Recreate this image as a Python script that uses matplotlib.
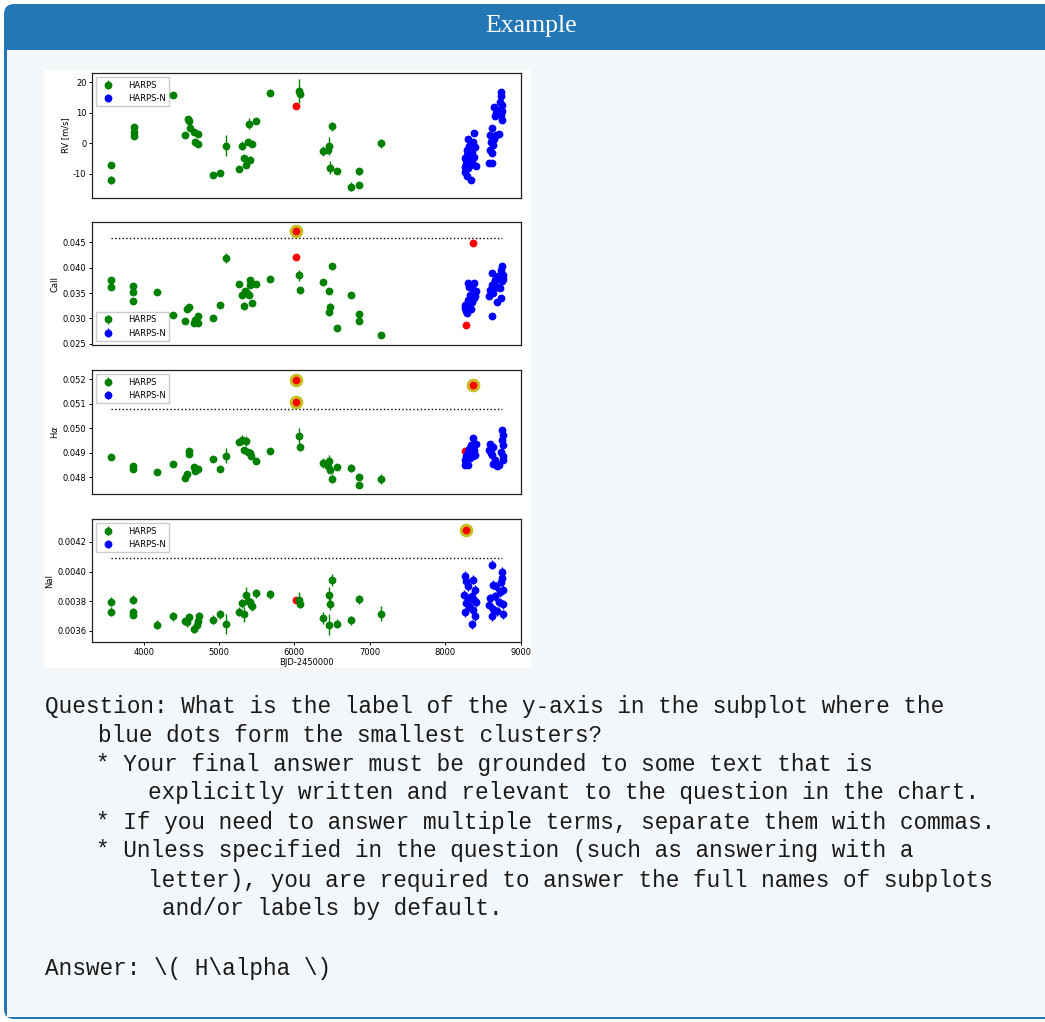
import matplotlib
matplotlib.use('Agg')
import matplotlib.pyplot as plt
from matplotlib.patches import FancyBboxPatch, Rectangle

W, H = 1045, 1022

# ---------------- data ----------------
# RV panel
rv_h_x = [3571, 3571, 3867, 3867, 3867, 4389, 4544, 4584, 4606, 4615, 4664, 4686, 4721, 4721,
          4925, 5018, 5093, 5261, 5310, 5336, 5363, 5385, 5398, 5407, 5438, 5491, 5681, 6058,
          6080, 6385, 6443, 6456, 6478, 6500, 6567, 6752, 6850, 6850, 7146]
rv_h_y = [-7.1, -12.0, 5.3, 3.8, 2.5, 15.9, 2.9, 7.9, 7.4, 5.0, 3.8, 0.4, 3.1, -0.1,
          -10.2, -9.8, -0.7, -8.4, -0.7, -4.7, -7.0, 0.4, 6.5, -5.3, -0.2, 7.5, 16.4, 17.1,
          16.2, -2.5, -2.1, -0.8, -7.9, 5.6, -9.1, -14.2, -9.1, -13.7, 0.0]
rv_h_err = [1.0, 1.2, 0.8, 0.8, 0.8, 1.0, 0.8, 0.8, 0.8, 0.8, 0.8, 0.8, 0.8, 0.8,
            0.8, 0.8, 3.5, 0.8, 1.5, 1.0, 1.0, 1.0, 1.8, 1.2, 0.8, 1.0, 1.0, 4.0,
            1.0, 1.5, 1.0, 3.0, 2.2, 1.5, 0.9, 1.5, 1.2, 0.9, 1.5]
rv_n_x = [8381, 8301, 8363, 8394, 8350, 8288, 8261, 8319, 8341, 8274, 8407, 8297, 8261, 8288,
          8341, 8332, 8257, 8283, 8328, 8381, 8359, 8270, 8310,
          8735, 8744, 8726, 8757, 8646, 8717, 8673, 8735, 8757, 8624, 8713, 8593, 8646, 8602,
          8637, 8593, 8624, 8580, 8624, 8668, 8748, 8615, 8655]
rv_n_y = [3.3, 1.6, 0.5, -1.1, -2.7, -3.8, -4.9, -4.4, -5.5, -6.6, -7.5, -8.2, -9.3, -10.8,
          -12.1, -3.3, -7.7, -2.2, -7.1, -4.4, -6.0, -5.6, -1.0,
          17.0, 15.4, 13.7, 12.6, 11.9, 11.0, 9.9, 9.3, 7.7, 4.9, 3.0, 2.7, 1.6, 0.5,
          -0.5, -2.2, -3.3, -6.4, -6.4, 2.7, 10.5, 1.0, 9.0]
rv_n_err = 0.9
rv_red_x = [6022]
rv_red_y = [12.2]

# CaII panel
ca_h_x = [3571, 3571, 3858, 3858, 3858, 4173, 4389, 4553, 4575, 4606, 4673, 4686, 4721, 4721,
          4925, 5018, 5093, 5261, 5310, 5336, 5350, 5372, 5394, 5407, 5407, 5438, 5491, 5681,
          6058, 6080, 6385, 6456, 6469, 6456, 6500, 6567, 6752, 6850, 6850, 7146]
ca_h_y = [0.03752, 0.03615, 0.03628, 0.03523, 0.03352, 0.03510, 0.03077, 0.02959, 0.03182,
          0.03221, 0.02907, 0.02972, 0.03051, 0.02920, 0.03018, 0.03267, 0.04185, 0.03680,
          0.03464, 0.03248, 0.03549, 0.03497, 0.03464, 0.03746, 0.03661, 0.03300, 0.03667,
          0.03779, 0.03844, 0.03556, 0.03713, 0.03530, 0.03235, 0.03136, 0.04021, 0.02808,
          0.03457, 0.03097, 0.02959, 0.02677]
ca_h_err = [0.0004, 0.0004, 0.0004, 0.0004, 0.0004, 0.0003, 0.0003, 0.0003, 0.0003, 0.0003,
            0.0004, 0.0004, 0.0003, 0.0003, 0.0003, 0.0003, 0.0010, 0.0004, 0.0005, 0.0007,
            0.0004, 0.0004, 0.0004, 0.0007, 0.0004, 0.0004, 0.0004, 0.0003, 0.0011, 0.0003,
            0.0005, 0.0005, 0.0007, 0.0008, 0.0005, 0.0003, 0.0005, 0.0004, 0.0003, 0.0005]
ca_n_x = [8381, 8297, 8359, 8403, 8328, 8381, 8297, 8261, 8319, 8274, 8341, 8288, 8359, 8310,
          8392, 8266,
          8757, 8740, 8619, 8770, 8704, 8659, 8748, 8619, 8681, 8597, 8726, 8637, 8575, 8735,
          8690, 8619, 8762, 8650]
ca_n_y = [0.03693, 0.03693, 0.03595, 0.03530, 0.03464, 0.03398, 0.03366, 0.03267, 0.03234,
          0.03156, 0.03182, 0.03103, 0.03333, 0.03620, 0.03450, 0.03200,
          0.04034, 0.03956, 0.03890, 0.03857, 0.03824, 0.03758, 0.03726, 0.03660, 0.03627,
          0.03562, 0.03595, 0.03496, 0.03444, 0.03398, 0.03333, 0.03051, 0.03780, 0.03700]
ca_n_err = 0.0003
ca_red_x = [6022, 8368, 8279]
ca_red_y = [0.04211, 0.04474, 0.02867]
ca_flag_x = [6022]
ca_flag_y = [0.04723]
ca_limit = 0.04572

# H-alpha panel
ha_h_x = [3571, 3858, 3858, 4173, 4389, 4544, 4575, 4606, 4606, 4673, 4686, 4721, 4925, 5018,
          5093, 5261, 5310, 5327, 5363, 5385, 5407, 5429, 5491, 5681, 6058, 6080, 6385, 6443,
          6456, 6478, 6500, 6567, 6752, 6850, 6850, 7146]
ha_h_y = [0.04882, 0.04844, 0.04831, 0.04821, 0.04852, 0.04797, 0.04814, 0.04905, 0.04896,
          0.04841, 0.04824, 0.04831, 0.04874, 0.04831, 0.04888, 0.04944, 0.04950, 0.04912,
          0.04946, 0.04903, 0.04899, 0.04886, 0.04866, 0.04905, 0.04967, 0.04922, 0.04859,
          0.04844, 0.04865, 0.04828, 0.04794, 0.04840, 0.04837, 0.04801, 0.04767, 0.04791]
ha_h_err = [0.00012, 0.0001, 0.0001, 0.0001, 0.0001, 0.0001, 0.0001, 0.0001, 0.0001, 0.0001,
            0.0001, 0.0001, 0.0001, 0.0001, 0.0003, 0.0001, 0.0002, 0.0001, 0.0002, 0.0001,
            0.0001, 0.0001, 0.0001, 0.0001, 0.00035, 0.00015, 0.0002, 0.0001, 0.00025, 0.0001,
            0.0002, 0.0001, 0.00015, 0.0001, 0.0001, 0.0002]
ha_n_x = [8372, 8403, 8341, 8385, 8297, 8350, 8279, 8328, 8261, 8297, 8257, 8363, 8310, 8394,
          8270,
          8757, 8766, 8748, 8770, 8597, 8637, 8740, 8575, 8619, 8770, 8659, 8637, 8690, 8717,
          8610, 8760]
ha_n_y = [0.04961, 0.04937, 0.04930, 0.04910, 0.04903, 0.04896, 0.04885, 0.04876, 0.04869,
          0.04848, 0.04848, 0.04888, 0.04915, 0.04890, 0.04860,
          0.04994, 0.04971, 0.04950, 0.04930, 0.04934, 0.04923, 0.04903, 0.04910, 0.04889,
          0.04885, 0.04869, 0.04852, 0.04844, 0.04850, 0.04900, 0.04870]
ha_n_err = 0.0001
ha_red_x = [8257]
ha_red_y = [0.04908]
ha_flag_x = [6022, 6022, 8368]
ha_flag_y = [0.05198, 0.05105, 0.05176]
ha_limit = 0.05077

# NaI panel
na_h_x = [3571, 3571, 3858, 3858, 3858, 4173, 4389, 4544, 4575, 4606, 4673, 4708, 4721, 4739,
          4925, 5018, 5093, 5261, 5310, 5336, 5363, 5385, 5407, 5438, 5491, 5681, 6058, 6080,
          6385, 6456, 6456, 6478, 6500, 6567, 6752, 6850, 7146]
na_h_y = [0.003796, 0.003730, 0.003809, 0.003726, 0.003708, 0.003640, 0.003697, 0.003665,
          0.003658, 0.003690, 0.003613, 0.003636, 0.003667, 0.003697, 0.003674, 0.003712,
          0.003645, 0.003730, 0.003787, 0.003712, 0.003843, 0.003798, 0.003793, 0.003764,
          0.003854, 0.003847, 0.003809, 0.003782, 0.003685, 0.003843, 0.003640, 0.003780,
          0.003944, 0.003647, 0.003670, 0.003813, 0.003715]
na_h_err = [0.00003, 0.00003, 0.00003, 0.00003, 0.00002, 0.00003, 0.00003, 0.00002, 0.00003,
            0.00003, 0.00003, 0.00003, 0.00002, 0.00003, 0.00003, 0.00003, 0.00007, 0.00003,
            0.00003, 0.00005, 0.00005, 0.00004, 0.00003, 0.00003, 0.00003, 0.00003, 0.00005,
            0.00003, 0.00004, 0.00005, 0.00007, 0.00004, 0.00004, 0.00003, 0.00003, 0.00003,
            0.00005]
na_n_x = [8261, 8274, 8372, 8297, 8394, 8252, 8350, 8407, 8274, 8319, 8261, 8372, 8394, 8350,
          8297, 8385,
          8619, 8748, 8757, 8628, 8770, 8597, 8659, 8770, 8575, 8637, 8690, 8770, 8619, 8708,
          8726, 8680, 8740]
na_n_y = [0.003971, 0.003933, 0.003944, 0.003899, 0.003876, 0.003843, 0.003838, 0.003793,
          0.003787, 0.003764, 0.003726, 0.003742, 0.003697, 0.003645, 0.003820, 0.003810,
          0.004045, 0.004000, 0.003955, 0.003910, 0.003876, 0.003820, 0.003832, 0.003780,
          0.003775, 0.003749, 0.003731, 0.003712, 0.003697, 0.003791, 0.003860, 0.003900,
          0.003930]
na_n_err = 0.00003
na_red_x = [6022, 8350]
na_red_y = [0.003809, 0.003815]
na_flag_x = [8279]
na_flag_y = [0.004279]
na_limit = 0.004094

limit_x = [3571, 8757]

# question text
question_lines = [
    (45, 707, 'Question: What is the label of the y-axis in the subplot where the'),
    (98, 736, 'blue dots form the smallest clusters?'),
    (96, 764, '* Your final answer must be grounded to some text that is'),
    (148, 793, 'explicitly written and relevant to the question in the chart.'),
    (96, 822, '* If you need to answer multiple terms, separate them with commas.'),
    (96, 851, '* Unless specified in the question (such as answering with a'),
    (148, 880, 'letter), you are required to answer the full names of subplots'),
    (162, 909, 'and/or labels by default.'),
    (45, 968, 'Answer: \\( H\\alpha \\)'),
]


def px_box(left, top, right, bottom):
    return [left / W, 1 - bottom / H, (right - left) / W, (bottom - top) / H]


fig = plt.figure(figsize=(W / 100, H / 100), dpi=100)
fig.patch.set_facecolor('white')

# card background
bg = fig.add_axes([0, 0, 1, 1])
bg.set_xlim(0, W)
bg.set_ylim(H, 0)
bg.axis('off')
bg.add_patch(FancyBboxPatch((4, 4), W + 20, H - 7, boxstyle='round,pad=0,rounding_size=10',
                            facecolor='#2377b4', edgecolor='none'))
bg.add_patch(Rectangle((7, 50), W + 10, H - 55, facecolor='#f4f7fa', edgecolor='none'))
bg.add_patch(Rectangle((44, 70), 487, 598, facecolor='white', edgecolor='none'))
bg.text(531, 26, 'Example', color='white', fontsize=18.5, family='Liberation Serif',
        ha='center', va='center')
for x, y, s in question_lines:
    bg.text(x, y, s, fontsize=16.4, family='Liberation Mono', color='#1a1a1a',
            ha='left', va='center')

# the four panels
panel_boxes = [(92, 73, 521, 198), (92, 222, 521, 345), (92, 370, 521, 494), (92, 519, 521, 642)]
green = 'green'
blue = 'blue'
fs = 6.0
ms = 4.6

panels = [
    dict(hx=rv_h_x, hy=rv_h_y, he=rv_h_err, nx=rv_n_x, ny=rv_n_y, ne=rv_n_err,
         rx=rv_red_x, ry=rv_red_y, fx=[], fy=[], lim=None, ylab='RV [m/s]',
         ylim=(-17.9, 23.1), yt=[-10, 0, 10, 20], yfmt='{:g}', loc='upper left'),
    dict(hx=ca_h_x, hy=ca_h_y, he=ca_h_err, nx=ca_n_x, ny=ca_n_y, ne=ca_n_err,
         rx=ca_red_x, ry=ca_red_y, fx=ca_flag_x, fy=ca_flag_y, lim=ca_limit, ylab='CaII',
         ylim=(0.0248, 0.04893), yt=[0.025, 0.030, 0.035, 0.040, 0.045], yfmt='{:.3f}',
         loc='lower left'),
    dict(hx=ha_h_x, hy=ha_h_y, he=ha_h_err, nx=ha_n_x, ny=ha_n_y, ne=ha_n_err,
         rx=ha_red_x, ry=ha_red_y, fx=ha_flag_x, fy=ha_flag_y, lim=ha_limit, ylab=r'H$\alpha$',
         ylim=(0.04731, 0.05237), yt=[0.048, 0.049, 0.050, 0.051, 0.052], yfmt='{:.3f}',
         loc='upper left'),
    dict(hx=na_h_x, hy=na_h_y, he=na_h_err, nx=na_n_x, ny=na_n_y, ne=na_n_err,
         rx=na_red_x, ry=na_red_y, fx=na_flag_x, fy=na_flag_y, lim=na_limit, ylab='NaI',
         ylim=(0.003524, 0.004355), yt=[0.0036, 0.0038, 0.0040, 0.0042], yfmt='{:.4f}',
         loc='upper left'),
]

for i, (box, p) in enumerate(zip(panel_boxes, panels)):
    ax = fig.add_axes(px_box(*box))
    if p['lim'] is not None:
        ax.plot(limit_x, [p['lim'], p['lim']], ':', color='black', lw=1.0)
    if p['fx']:
        ax.plot(p['fx'], p['fy'], 'o', color='#c2bb10', ms=8.8, alpha=0.9, zorder=3)
    ax.plot(p['rx'], p['ry'], 'o', color='red', ms=ms, zorder=4)
    ax.errorbar(p['hx'], p['hy'], yerr=p['he'], fmt='o', color=green, ms=ms,
                elinewidth=1.0, label='HARPS', zorder=5)
    ax.errorbar(p['nx'], p['ny'], yerr=p['ne'], fmt='o', color=blue, ms=ms,
                elinewidth=1.0, label='HARPS-N', zorder=5)
    if p['fx']:
        ax.plot(p['fx'], p['fy'], 'o', color='red', ms=ms, zorder=6)
    ax.set_xlim(3315, 9005)
    ax.set_ylim(*p['ylim'])
    ax.set_yticks(p['yt'])
    ax.set_yticklabels([p['yfmt'].format(v) for v in p['yt']])
    ax.set_ylabel(p['ylab'], fontsize=fs, labelpad=2)
    ax.tick_params(labelsize=fs, length=2.5, width=0.7, pad=1.5)
    if i < 3:
        ax.set_xticks([])
    else:
        ax.set_xticks([4000, 5000, 6000, 7000, 8000, 9000])
        ax.set_xlabel('BJD-2450000', fontsize=fs, labelpad=1)
    for s in ax.spines.values():
        s.set_linewidth(0.9)
        s.set_color('#222222')
    ax.legend(loc=p['loc'], fontsize=fs, handletextpad=1.4, borderpad=0.4,
              labelspacing=0.5, fancybox=False, framealpha=1, edgecolor='#cccccc')

fig.savefig('out.png', dpi=100)
